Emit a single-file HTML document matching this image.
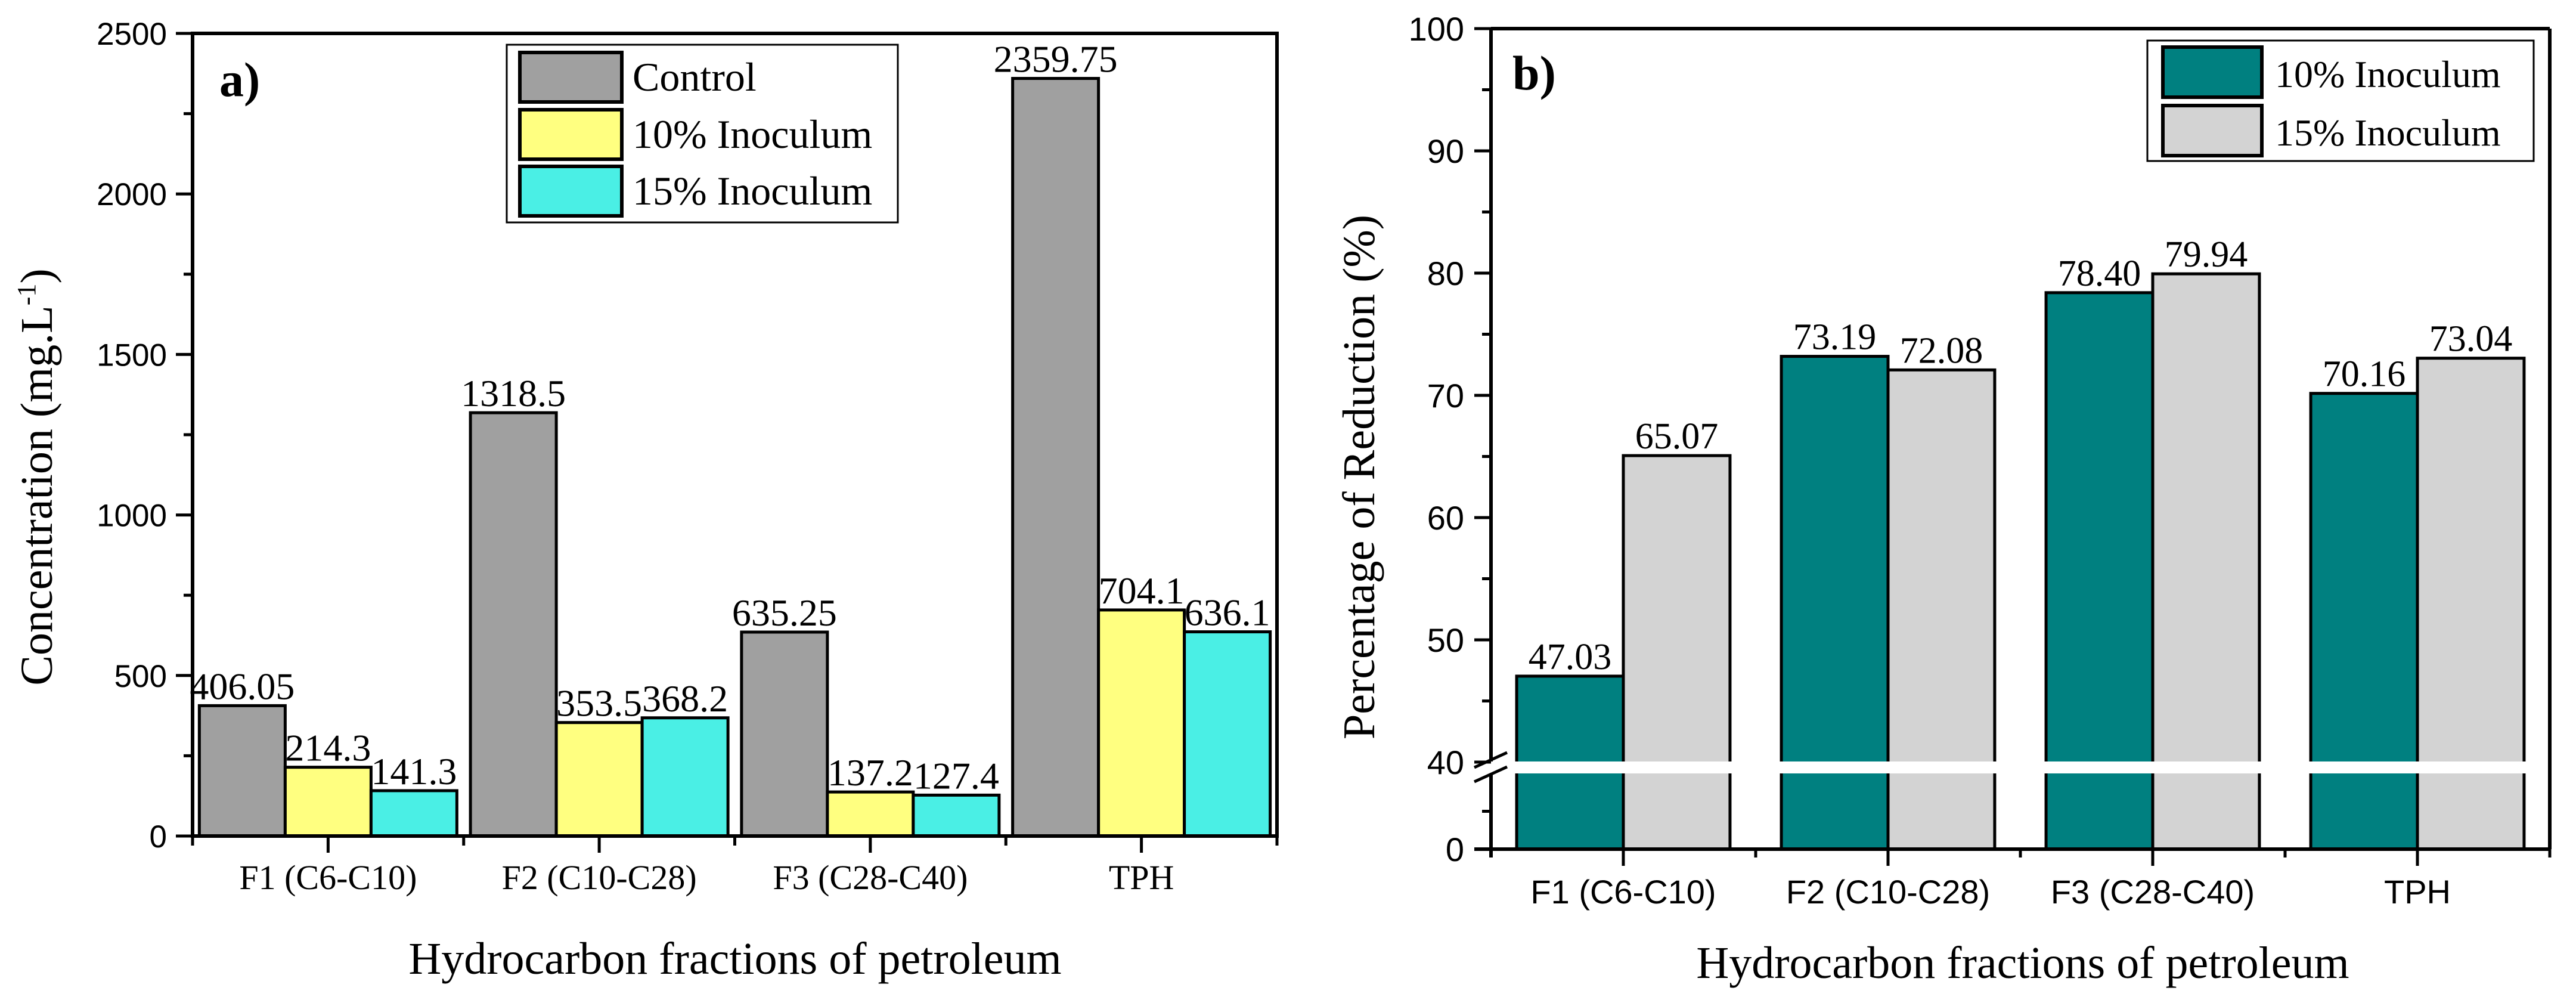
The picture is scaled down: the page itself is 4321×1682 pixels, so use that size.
<!DOCTYPE html>
<html><head><meta charset="utf-8"><style>
html,body{margin:0;padding:0;background:#fff;}
svg{display:block;}
.serif{font-family:"Liberation Serif",serif;}
.sans{font-family:"Liberation Sans",sans-serif;}
</style></head>
<body>
<svg id="fig" width="4321" height="1682" viewBox="0 0 4321 1682" xmlns="http://www.w3.org/2000/svg">
<g id="chartA"></g>
<g id="chartB"></g>
</svg>
<script>
// ---------- Data: chart a ----------
const catsA = ["F1 (C6-C10)", "F2 (C10-C28)", "F3 (C28-C40)", "TPH"];
const controlA = [406.05, 1318.5, 635.25, 2359.75];
const inoc10A = [214.3, 353.5, 137.2, 704.1];
const inoc15A = [141.3, 368.2, 127.4, 636.1];
const labelsControlA = ["406.05", "1318.5", "635.25", "2359.75"];
const labels10A = ["214.3", "353.5", "137.2", "704.1"];
const labels15A = ["141.3", "368.2", "127.4", "636.1"];
const yTicksA = [0, 500, 1000, 1500, 2000, 2500];
const seriesNamesA = ["Control", "10% Inoculum", "15% Inoculum"];
// ---------- Data: chart b ----------
const catsB = ["F1 (C6-C10)", "F2 (C10-C28)", "F3 (C28-C40)", "TPH"];
const inoc10B = [47.03, 73.19, 78.40, 70.16];
const inoc15B = [65.07, 72.08, 79.94, 73.04];
const labels10B = ["47.03", "73.19", "78.40", "70.16"];
const labels15B = ["65.07", "72.08", "79.94", "73.04"];
const yTicksB = [0, 40, 50, 60, 70, 80, 90, 100];
const seriesNamesB = ["10% Inoculum", "15% Inoculum"];

const NS = "http://www.w3.org/2000/svg";
function mk(parent, tag, attrs, text) {
  const e = document.createElementNS(NS, tag);
  for (const k in attrs) e.setAttribute(k, attrs[k]);
  if (text !== undefined) e.textContent = text;
  parent.appendChild(e);
  return e;
}

// ---------- Chart A ----------
(function () {
  const g = document.getElementById("chartA");
  const L = 323, R = 2142, T = 56, B = 1402, maxV = 2500;
  const y = v => B - v / maxV * (B - T);
  const cw = (R - L) / catsA.length;
  const cx = i => L + cw * (i + 0.5);
  const bw = cw * 0.95 / 3;
  const colors = ["#a0a0a0", "#ffff80", "#4aefe5"];
  const series = [controlA, inoc10A, inoc15A];
  const labels = [labelsControlA, labels10A, labels15A];
  const keys = ["control", "inoculum-10", "inoculum-15"];
  series.forEach((s, si) => {
    s.forEach((v, i) => {
      const x0 = cx(i) - 1.5 * bw + si * bw;
      const r = mk(g, "rect", {x: x0, y: y(v), width: bw, height: B - y(v), fill: colors[si], stroke: "#000", "stroke-width": 5});
      
      
      const t = mk(g, "text", {x: x0 + bw / 2, y: y(v) - 11, "text-anchor": "middle", "font-size": 64, class: "serif"}, labels[si][i]);
      
      
    });
  });
  const fr = mk(g, "rect", {x: L, y: T, width: R - L, height: B - T, fill: "none", stroke: "#000", "stroke-width": 6});
  
  
  for (let v = 0; v <= maxV; v += 250) {
    const major = v % 500 === 0;
    mk(g, "line", {x1: major ? 295 : 308, x2: L, y1: y(v), y2: y(v), stroke: "#000", "stroke-width": 5});
  }
  yTicksA.forEach(v => {
    const t = mk(g, "text", {x: 280, y: y(v) + 19, "text-anchor": "end", "font-size": 53, class: "sans"}, String(v));
    
    
  });
  for (let i = 0; i <= catsA.length; i++) mk(g, "line", {x1: L + cw * i, x2: L + cw * i, y1: B, y2: 1418, stroke: "#000", "stroke-width": 5});
  catsA.forEach((c, i) => {
    mk(g, "line", {x1: cx(i), x2: cx(i), y1: B, y2: 1430, stroke: "#000", "stroke-width": 5});
    const t = mk(g, "text", {x: cx(i), y: 1491, "text-anchor": "middle", "font-size": 58, class: "serif"}, c);
    
    
  });
  const xt = mk(g, "text", {x: 1233, y: 1633, "text-anchor": "middle", "font-size": 76, class: "serif"}, "Hydrocarbon fractions of petroleum");
  
  
  const yt = mk(g, "text", {transform: "translate(87,800) rotate(-90)", "text-anchor": "middle", "font-size": 76, class: "serif"});
  
  
  yt.innerHTML = 'Concentration (mg.L<tspan dy="-28" font-size="44">-1</tspan><tspan dy="28">)</tspan>';
  const pl = mk(g, "text", {x: 368, y: 161, "font-size": 82, "font-weight": "bold", class: "serif"}, "a)");
  
  
  const lg = mk(g, "g", {});
  
  
  mk(lg, "rect", {x: 850, y: 75, width: 656, height: 298, fill: "#fff", stroke: "#000", "stroke-width": 3});
  const rowsY = [88, 184, 279];
  seriesNamesA.forEach((n, i) => {
    const e = mk(lg, "g", {});
    
    
    mk(e, "rect", {x: 872, y: rowsY[i], width: 171, height: 83, fill: colors[i], stroke: "#000", "stroke-width": 6});
    mk(e, "text", {x: 1061, y: rowsY[i] + 64, "font-size": 68, class: "serif"}, n);
  });
})();

// ---------- Chart B ----------
(function () {
  const g = document.getElementById("chartB");
  const L = 2501, R = 4277, T = 48, B = 1424;
  const BRK_TOP = 1277, BRK_BOT = 1297;
  const y = v => v >= 40 ? T + (100 - v) * (1278 - T) / 60 : B - v * (B - BRK_BOT) / 40;
  const cw = (R - L) / catsB.length;
  const cx = i => L + cw * (i + 0.5);
  const bw = cw * 0.806 / 2;
  const colors = ["#008080", "#d3d3d3"];
  const series = [inoc10B, inoc15B];
  const labels = [labels10B, labels15B];
  const keys = ["inoculum-10", "inoculum-15"];
  series.forEach((s, si) => {
    s.forEach((v, i) => {
      const x0 = cx(i) - bw + si * bw;
      const r = mk(g, "rect", {x: x0, y: y(v), width: bw, height: B - y(v), fill: colors[si], stroke: "#000", "stroke-width": 5});
      
      
      const t = mk(g, "text", {x: x0 + bw / 2, y: y(v) - 12, "text-anchor": "middle", "font-size": 62, class: "serif"}, labels[si][i]);
      
      
    });
  });
  mk(g, "line", {x1: L, x2: R, y1: T, y2: T, stroke: "#000", "stroke-width": 6});
  mk(g, "line", {x1: R, x2: R, y1: T, y2: B, stroke: "#000", "stroke-width": 6});
  mk(g, "line", {x1: 2473, x2: R, y1: B, y2: B, stroke: "#000", "stroke-width": 6});
  mk(g, "line", {x1: L, x2: L, y1: T, y2: B + 14, stroke: "#000", "stroke-width": 6});
  const band = mk(g, "rect", {x: 2470, y: BRK_TOP, width: 1770, height: BRK_BOT - BRK_TOP, fill: "#fff"});
  
  
  mk(g, "line", {x1: 2473, y1: 1287, x2: 2528, y2: 1262, stroke: "#000", "stroke-width": 5});
  mk(g, "line", {x1: 2473, y1: 1311, x2: 2528, y2: 1286, stroke: "#000", "stroke-width": 5});
  for (let v = 40; v <= 100; v += 5) {
    const major = v % 10 === 0;
    mk(g, "line", {x1: major ? 2473 : 2486, x2: L, y1: y(v), y2: y(v), stroke: "#000", "stroke-width": 5});
  }
  mk(g, "line", {x1: 2486, x2: L, y1: y(20), y2: y(20), stroke: "#000", "stroke-width": 5});
  yTicksB.forEach(v => {
    const t = mk(g, "text", {x: 2456, y: y(v) + 20, "text-anchor": "end", "font-size": 56, class: "sans"}, String(v));
    
    
  });
  for (let i = 0; i <= catsB.length; i++) mk(g, "line", {x1: L + cw * i, x2: L + cw * i, y1: B, y2: 1438, stroke: "#000", "stroke-width": 5});
  catsB.forEach((c, i) => {
    mk(g, "line", {x1: cx(i), x2: cx(i), y1: B, y2: 1452, stroke: "#000", "stroke-width": 5});
    const t = mk(g, "text", {x: cx(i), y: 1515, "text-anchor": "middle", "font-size": 56, class: "sans"}, c);
    
    
  });
  const xt = mk(g, "text", {x: 3393, y: 1640, "text-anchor": "middle", "font-size": 76, class: "serif"}, "Hydrocarbon fractions of petroleum");
  
  
  const yt = mk(g, "text", {transform: "translate(2305,800) rotate(-90)", "text-anchor": "middle", "font-size": 76, class: "serif"}, "Percentage of Reduction (%)");
  
  
  const pl = mk(g, "text", {x: 2537, y: 150, "font-size": 82, "font-weight": "bold", class: "serif"}, "b)");
  
  
  const lg = mk(g, "g", {});
  
  
  mk(lg, "rect", {x: 3602, y: 68, width: 648, height: 202, fill: "#fff", stroke: "#000", "stroke-width": 3});
  const rowsY = [79, 177];
  seriesNamesB.forEach((n, i) => {
    const e = mk(lg, "g", {});
    
    
    mk(e, "rect", {x: 3628, y: rowsY[i], width: 166, height: 84, fill: colors[i], stroke: "#000", "stroke-width": 6});
    mk(e, "text", {x: 3816, y: rowsY[i] + 67, "font-size": 64, class: "serif"}, n);
  });
})();
</script>
</body></html>
